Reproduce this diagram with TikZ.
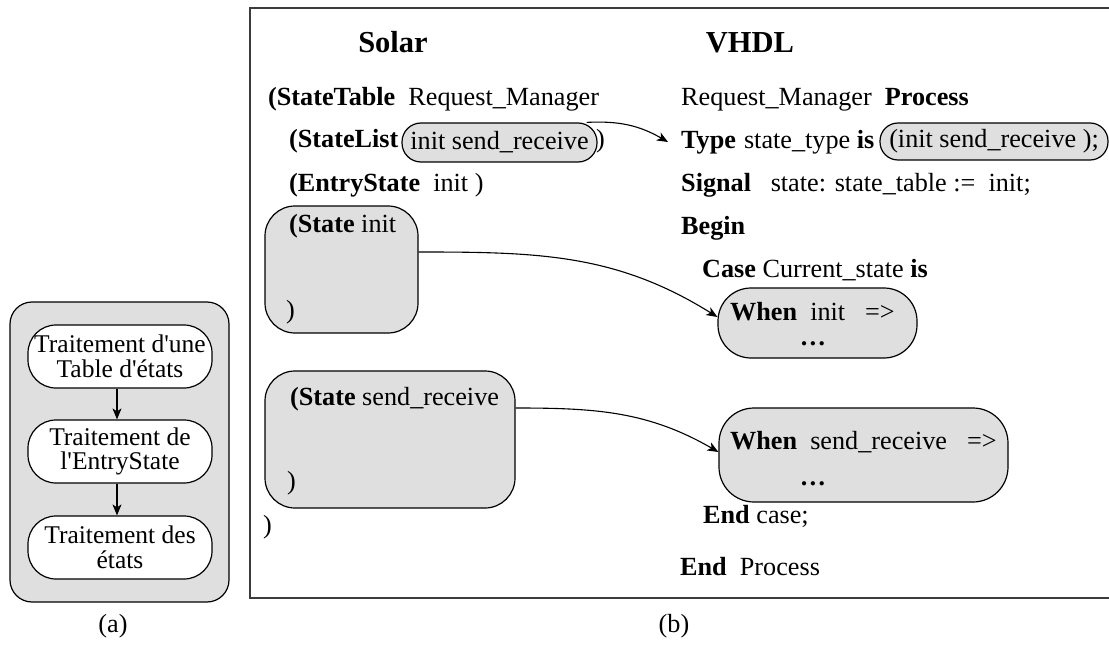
\documentclass[tikz,border=0pt]{standalone}
\usepackage{fontspec}
\setmainfont{Liberation Serif}[Ligatures=TeXOff]
\usetikzlibrary{arrows.meta}
\definecolor{boxgray}{RGB}{223,223,223}
\definecolor{framegray}{RGB}{60,60,60}
\begin{document}
\begin{tikzpicture}[x=1pt,y=-1pt,
  every node/.style={font=\fontsize{26.2}{26}\selectfont},
  txt/.style={anchor=base west, inner sep=0pt},
  ctxt/.style={anchor=base, inner sep=0pt},
  grayround/.style={draw=black, line width=1.2pt, fill=boxgray, rounded corners=#1, inner sep=0pt},
  whiteround/.style={draw=black, line width=1.2pt, fill=white, rounded corners=28pt, inner sep=0pt,
     minimum width=184pt, minimum height=63pt, align=center, font=\fontsize{25.5}{24.5}\selectfont},
  link/.style={line width=1.1pt, -{Stealth[length=11pt,width=9pt,inset=3pt]}},
  heading/.style={anchor=base, inner sep=0pt, font=\fontsize{30.5}{31}\selectfont\bfseries}
]
\useasboundingbox (0,0) rectangle (1109,650);

% ---------- (a) ----------
\node[grayround=22pt, minimum width=219pt, minimum height=300pt] (abox) at (119.5,452) {};
\node[whiteround] (n1) at (120,356.5) {Traitement d'une\\Table d'états};
\node[whiteround] (n2) at (120,451.5) {Traitement de\\l'EntryState};
\node[whiteround] (n3) at (120,547.5) {Traitement des\\états};
\draw[link] ([xshift=-3pt]n1.south) -- ([xshift=-3pt]n2.north);
\draw[link] ([xshift=-3pt]n2.south) -- ([xshift=-3pt]n3.north);
\node[ctxt] (capa) at (113,632) {(a)};

% ---------- (b) ----------
\draw[framegray, line width=1.6pt] (1120,8) -- (250,8) -- (250,598) -- (1120,598);
\node[ctxt] (capb) at (674,632) {(b)};

\node[heading] (solar) at (393,53) {Solar};
\node[heading] (vhdl) at (750,53) {VHDL};

% Solar column
\node[txt] (l1) at (268,106) {\textbf{(StateTable}~~Request\_Manager};
\node[txt] (l2) at (289,148) {\textbf{(StateList}};
\node[grayround=19pt, minimum width=195pt, minimum height=39pt] (sl) at (499.5,142.5) {init send\_receive};
\node[txt] (l2b) at (596,148) {)};
\node[txt] (l3) at (289,191) {\textbf{(EntryState}~~init )};

\node[grayround=30pt, minimum width=153pt, minimum height=127pt] (si) at (341.5,269.5) {};
\node[txt] (l4) at (289,233) {\textbf{(State} init};
\node[txt] (l5) at (286,318) {)};

\node[grayround=30pt, minimum width=250pt, minimum height=137pt] (sr) at (390,439.5) {};
\node[txt] (l6) at (290,405) {\textbf{(State} send\_receive};
\node[txt] (l7) at (287,489) {)};
\node[txt] (l8) at (263,533) {)};

% VHDL column
\node[txt] (r1) at (681,106) {Request\_Manager~~\textbf{Process}};
\node[txt] (r2) at (681,149) {\textbf{Type}\hspace{8pt}state\_type \textbf{is}};
\node[grayround=18pt, minimum width=228pt, minimum height=37pt] (tp) at (994,141.5) {(init send\_receive );};
\node[txt] (r3) at (681,192) {\textbf{Signal}~~~state: state\_table :=~~init;};
\node[txt] (r4) at (681,234) {\textbf{Begin}};
\node[txt] (r5) at (702,277) {\textbf{Case}~Current\_state \textbf{is}};

\node[grayround=33pt, minimum width=199pt, minimum height=70pt] (wi) at (817.5,323) {};
\node[txt] (wi1) at (730,320) {\textbf{When}~~init\hspace{20pt}=>};
\node[ctxt] (wi2) at (813,345) {\textbf{…}};

\node[grayround=35pt, minimum width=289pt, minimum height=94pt] (ws) at (863.5,455) {};
\node[txt] (ws1) at (730,449) {\textbf{When}~~send\_receive\hspace{20pt}=>};
\node[ctxt] (ws2) at (813,485) {\textbf{…}};

\node[txt] (r6) at (703,523) {\textbf{End} case;};
\node[txt] (r7) at (680,575) {\textbf{End}~~Process};

% connectors
\coordinate (typetip) at (668,142);
\draw[link] ([xshift=-11pt]sl.north east) to[out=3,in=150] (typetip);
\draw[link] ([yshift=17.5pt]si.east) to[out=0,in=148] ([yshift=6pt]wi.west);
\draw[link] ([yshift=31.5pt]sr.east) to[out=0,in=150] ([yshift=3pt]ws.west);
\end{tikzpicture}
\end{document}
